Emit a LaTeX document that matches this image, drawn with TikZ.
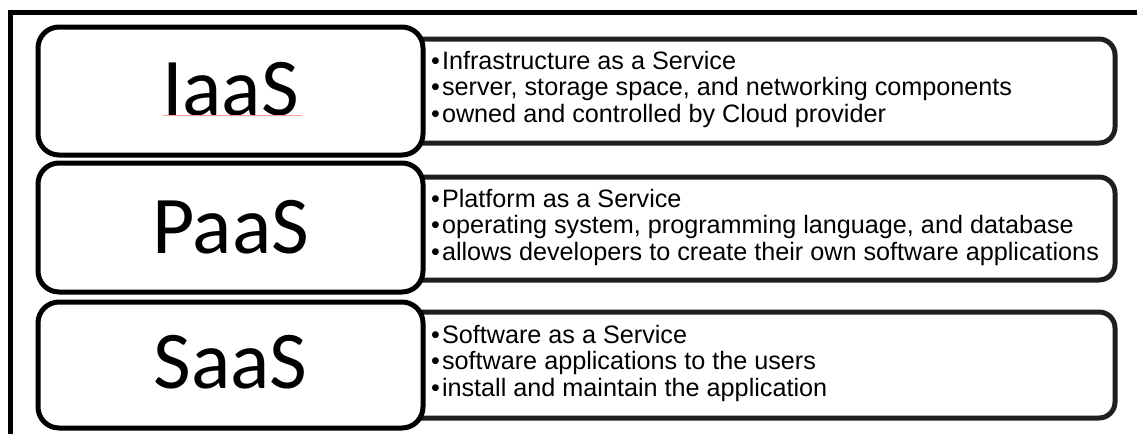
\documentclass[tikz,border=0pt]{standalone}
\usepackage{fontspec}
\setmainfont{Liberation Sans}
\newfontfamily\bigfont{Carlito}
\begin{document}
\begin{tikzpicture}[x=1pt,y=-1pt,
  leftbox/.style={draw=black, line width=5pt, rounded corners=21pt, fill=white, inner sep=0pt},
  rightbox/.style={draw=black!88, line width=5pt, rounded corners=16pt, fill=white, inner sep=0pt},
  title/.style={font=\bigfont\fontsize{82}{82}\selectfont, anchor=center, inner sep=0pt},
  bullets/.style={font=\fontsize{25.2}{26.5}\selectfont, align=left, anchor=west, inner sep=0pt}]
\useasboundingbox (0,0) rectangle (1137,434);
\coordinate (fb) at (10,434);
\coordinate (fc) at (10,12);
\coordinate (fr) at (1137,12);
\draw[line width=5pt] (fb) -- (fc) -- (fr);
% right boxes
\node[rightbox, minimum width=735pt, minimum height=104pt] (r1) at (747.5,91) {};
\node[rightbox, minimum width=735pt, minimum height=103pt] (r2) at (747.5,228.5) {};
\node[rightbox, minimum width=735pt, minimum height=106pt] (r3) at (747.5,365) {};
% left boxes
\node[leftbox, minimum width=385pt, minimum height=128pt] (l1) at (230.5,91) {};
\node[leftbox, minimum width=385pt, minimum height=129pt] (l2) at (230.5,227.5) {};
\node[leftbox, minimum width=385pt, minimum height=126pt] (l3) at (230.5,365) {};
% titles
\node[title] (t1) at (230.5,89) {IaaS};
\node[title] (t2) at (230.5,227) {PaaS};
\node[title] (t3) at (230.5,362) {SaaS};
\coordinate (u1) at (163,115);
\coordinate (u2) at (302,115);
\draw[red!40, line width=0.8pt] (u1) -- (u2);
% bullet texts
\node[bullets] (b1) at (431,89) {•\hspace{2pt}Infrastructure as a Service\\•\hspace{2pt}server, storage space, and networking components\\•\hspace{2pt}owned and controlled by Cloud provider};
\node[bullets] (b2) at (431,227) {•\hspace{2pt}Platform as a Service\\•\hspace{2pt}operating system, programming language, and database\\•\hspace{2pt}allows developers to create their own software applications};
\node[bullets] (b3) at (431,363) {•\hspace{2pt}Software as a Service\\•\hspace{2pt}software applications to the users\\•\hspace{2pt}install and maintain the application};
\end{tikzpicture}
\end{document}
